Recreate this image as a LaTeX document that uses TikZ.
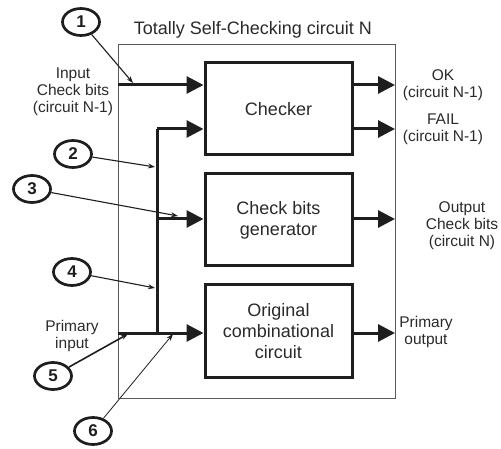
\documentclass[tikz,border=0pt]{standalone}
\usepackage{fontspec}
\setmainfont{Liberation Sans}
\usetikzlibrary{arrows.meta,shapes.geometric}
\definecolor{ink}{HTML}{1E1E1E}
\definecolor{txt}{HTML}{2A2A2A}
\definecolor{frame}{HTML}{5A5A5A}
\tikzset{
  block/.style={draw=ink, line width=3pt, minimum width=147pt, minimum height=92pt,
    align=center, text=txt, font=\fontsize{18}{21}\selectfont, inner sep=0pt},
  side/.style={align=center, text=txt, font=\fontsize{15.5}{17}\selectfont, inner sep=0pt},
  bus/.style={draw=ink, line width=3pt},
  busarrow/.style={bus, -{Triangle[length=17pt,width=17pt]}},
  tag/.style={ellipse, draw=ink, line width=2.7pt, minimum width=37pt, minimum height=27pt,
    inner sep=0pt, text=ink, font=\fontsize{17}{17}\selectfont\bfseries},
  pointer/.style={draw=ink, line width=1.1pt, -{Stealth[length=7pt,width=5pt]}},
}
\begin{document}
\begin{tikzpicture}[x=1pt,y=-1pt]
\useasboundingbox (0,0) rectangle (501,449);

% enclosing circuit
\draw[frame, line width=1pt] (118,45) rectangle (395,398);
\node[side, font=\fontsize{18}{21}\selectfont] (title) at (253,30) {Totally Self-Checking circuit N};

% functional blocks
\node[block] (checker) at (278.5,109) {Checker};
\node[block] (gen) at (278.5,220) {Check bits\\generator};
\node[block] (orig) at (278.5,331) {Original\\combinational\\circuit};

% inputs
\coordinate (inchk) at (118,85);
\coordinate (inpri) at (118,333);
\coordinate (top) at (157,129);
\coordinate (mid) at (157,219);
\coordinate (bot) at (157,333);
\draw[busarrow] (inchk) -- (inchk -| checker.west);
\draw[bus] (inpri) -- (bot);
\draw[busarrow] (bot) -- (bot -| orig.west);
\draw[bus] (bot) -- (top);
\draw[busarrow] (top) -- (top -| checker.west);
\draw[busarrow] (mid) -- (mid -| gen.west);

% outputs
\coordinate (ok) at (395,85);
\coordinate (fail) at (395,129);
\coordinate (outchk) at (395,219);
\coordinate (outpri) at (395,333);
\draw[busarrow] (ok -| checker.east) -- (ok);
\draw[busarrow] (fail -| checker.east) -- (fail);
\draw[busarrow] (outchk -| gen.east) -- (outchk);
\draw[busarrow] (outpri -| orig.east) -- (outpri);

% signal names
\node[side] (linchk) at (73,92) {Input\\Check bits\\(circuit N-1)};
\node[side] (lpi) at (72,336) {Primary\\input};
\node[side] (lok) at (443,85) {OK\\(circuit N-1)};
\node[side] (lfail) at (443,129) {FAIL\\(circuit N-1)};
\node[side] (loc) at (462,226) {Output\\Check bits\\(circuit N)};
\node[side] (lpo) at (426,332) {Primary\\output};

% numbered test points
\node[tag] (t1) at (81,22) {1};
\node[tag] (t2) at (73,154) {2};
\node[tag] (t3) at (32,189) {3};
\node[tag] (t4) at (72,272) {4};
\node[tag] (t5) at (53,376) {5};
\node[tag] (t6) at (93,431) {6};

\coordinate (p1) at (133,83);
\coordinate (p2) at (155,167);
\coordinate (p3) at (178,216);
\coordinate (p4) at (155,288);
\coordinate (p5) at (128,334);
\coordinate (p6) at (173,334);
\draw[pointer] (t1) -- (p1);
\draw[pointer] (t2) -- (p2);
\draw[pointer] (t3) -- (p3);
\draw[pointer] (t4) -- (p4);
\draw[pointer, line width=1.6pt] (t5) -- (p5);
\draw[pointer, line width=0.8pt] (t6) -- (p6);
\end{tikzpicture}
\end{document}
